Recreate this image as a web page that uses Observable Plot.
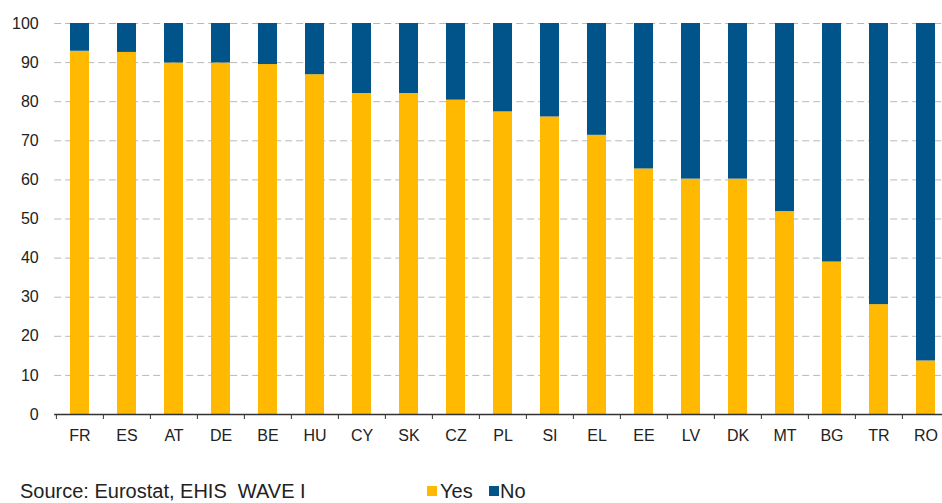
<!DOCTYPE html>
<html>
<head>
<meta charset="utf-8">
<script src="https://cdn.jsdelivr.net/npm/d3@7"></script>
<script src="https://cdn.jsdelivr.net/npm/@observablehq/plot@0.6"></script>
<style>
  html, body { margin: 0; padding: 0; background: #fff; }
  #wrap { position: relative; width: 942px; height: 503px; overflow: hidden; font-family: "Liberation Sans", Arial, sans-serif; color: #222; }
  #chart { position: absolute; left: 0; top: 0; }
  .foot { position: absolute; font-size: 20px; line-height: 20px; white-space: nowrap; color: #222; }
  .sw { position: absolute; width: 10px; height: 10px; }
</style>
</head>
<body>
<div id="wrap">
  <div id="chart"></div>
  <div class="foot" id="source" style="left:20px; top:481px;">Source: Eurostat, EHIS&nbsp;&nbsp;WAVE I</div>
  <div class="sw" id="swYes" style="left:427px; top:486px;"></div>
  <div class="foot" id="lblYes" style="left:440px; top:481px;"></div>
  <div class="sw" id="swNo" style="left:489px; top:486px;"></div>
  <div class="foot" id="lblNo" style="left:500px; top:481px;"></div>
</div>
<script>
const countries = ["FR","ES","AT","DE","BE","HU","CY","SK","CZ","PL","SI","EL","EE","LV","DK","MT","BG","TR","RO"];
const yesValues = [92.9, 92.6, 89.9, 89.9, 89.5, 86.9, 82.1, 82.1, 80.4, 77.4, 76.1, 71.4, 62.8, 60.2, 60.2, 51.9, 39.0, 28.1, 13.7];
const noValues  = [7.1, 7.4, 10.1, 10.1, 10.5, 13.1, 17.9, 17.9, 19.6, 22.6, 23.9, 28.6, 37.2, 39.8, 39.8, 48.1, 61.0, 71.9, 86.3];
const seriesNames = ["Yes", "No"];
const seriesColors = ["#FFB900", "#00548A"];
const yTicks = [0, 10, 20, 30, 40, 50, 60, 70, 80, 90, 100];

const data = [];
countries.forEach((c, i) => {
  data.push({country: c, series: seriesNames[0], value: yesValues[i]});
  data.push({country: c, series: seriesNames[1], value: noValues[i]});
});

const step = (951.4 - 54.2) / countries.length;

const chart = Plot.plot({
  width: 942,
  height: 460,
  marginTop: 23,
  marginBottom: 46,
  marginLeft: 54.2,
  marginRight: 0,
  style: {fontFamily: "'Liberation Sans', Arial, sans-serif", fontSize: "16px", color: "#222", background: "#fff"},
  x: {domain: countries, range: [54.2, 951.4], paddingInner: 0.6, paddingOuter: 0.3, align: 0.5},
  y: {domain: [0, 100]},
  color: {domain: seriesNames, range: seriesColors},
  marks: [
    Plot.gridY(yTicks.filter(d => d > 0), {stroke: "#b8b8b8", strokeOpacity: 1, strokeDasharray: "7,4"}),
    Plot.barY(data, {x: "country", y: "value", fill: "series", order: seriesNames}),
    Plot.ruleY([0], {stroke: "#333", strokeWidth: 1.3}),
    Plot.axisY({ticks: yTicks, tickSize: 0, tickPadding: 16, label: null, fill: "#222"}),
    Plot.axisX({tickSize: 0, tickPadding: 15.5, label: null, fill: "#222"}),
    Plot.axisX({tickSize: 5, text: null, label: null, dx: -step / 2, stroke: "#333"})
  ]
});
chart.setAttribute("style", (chart.getAttribute("style") || "") + ";overflow:hidden;");
document.getElementById("chart").appendChild(chart);

document.getElementById("swYes").style.background = seriesColors[0];
document.getElementById("swNo").style.background = seriesColors[1];
document.getElementById("lblYes").textContent = seriesNames[0];
document.getElementById("lblNo").textContent = seriesNames[1];
</script>
</body>
</html>
